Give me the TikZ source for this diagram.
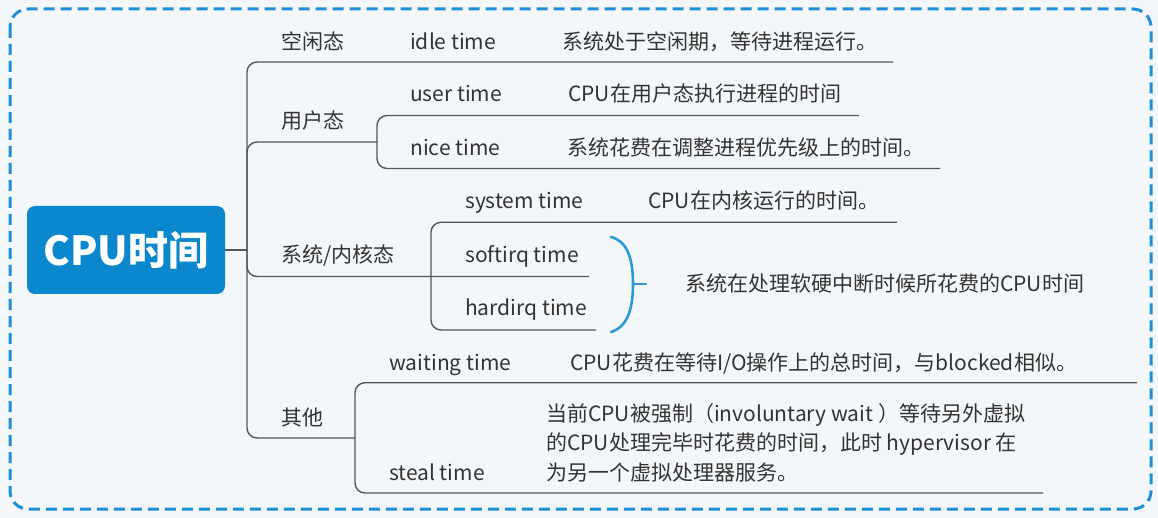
\documentclass[tikz,border=0pt]{standalone}
\usepackage{fontspec}
\setmainfont{Noto Sans CJK SC}
\definecolor{bgc}{HTML}{F4F7FA}
\definecolor{bordc}{HTML}{1E8FD6}
\definecolor{centc}{HTML}{0B87CD}
\definecolor{textc}{HTML}{333333}
\definecolor{linec}{HTML}{555555}
\definecolor{bracec}{HTML}{2A9AD6}
\begin{document}
\begin{tikzpicture}[x=1pt,y=-1pt,
  txt/.style={anchor=base west, inner sep=0pt, font=\fontsize{21}{29.5}\selectfont, text=textc},
  ln/.style={draw=linec, line width=1.4pt, rounded corners=10pt},
  border/.style={draw=bordc, line width=3pt, dash pattern=on 11pt off 6pt, rounded corners=18pt},
  centerbox/.style={fill=centc, rounded corners=8pt, minimum width=198pt, minimum height=88pt, inner sep=0pt, text=white, font=\fontsize{40}{48}\selectfont\bfseries},
  bracestyle/.style={draw=bracec, line width=2.6pt, line cap=round}
]
\useasboundingbox (0,0) rectangle (1158,518);
\fill[bgc] (0,0) rectangle (1158,518);
\draw[border] (10,9) rectangle (1151,509);

% central node
\node[centerbox] (cpu) at (126,250) {CPU时间};

% level-1 labels
\node[txt] (idle) at (281,50) {空闲态};
\node[txt] (user) at (281,129) {用户态};
\node[txt] (kern) at (281,263) {系统/内核态};
\node[txt] (other) at (281,425) {其他};

% level-2 labels
\node[txt] (idlet) at (410,50) {idle time};
\node[txt] (usert) at (410,102) {user time};
\node[txt] (nicet) at (410,156) {nice time};
\node[txt] (syst) at (465,209) {system time};
\node[txt] (softt) at (465,263) {softirq time};
\node[txt] (hardt) at (465,316) {hardirq time};
\node[txt] (waitt) at (389,370) {waiting time};
\node[txt] (stealt) at (389,480) {steal time};

% descriptions
\node[txt] (idled) at (562,50) {系统处于空闲期，等待进程运行。};
\node[txt] (userd) at (568,102) {CPU在用户态执行进程的时间};
\node[txt] (niced) at (567,156) {系统花费在调整进程优先级上的时间。};
\node[txt] (sysd) at (648,209) {CPU在内核运行的时间。};
\node[txt] (irqd) at (685,292) {系统在处理软硬中断时候所花费的CPU时间};
\node[txt] (waitd) at (570,370) {CPU花费在等待I/O操作上的总时间，与blocked相似。};
\node[txt, align=left] (steald) at (546,480) {当前CPU被强制（involuntary wait ）等待另外虚拟\\的CPU处理完毕时花费的时间，此时 hypervisor 在\\为另一个虚拟处理器服务。};

% junctions and line ends
\coordinate (J) at (247,250);
\coordinate (u) at (377,142);
\coordinate (k) at (431,276.5);
\coordinate (o) at (355,438);
\coordinate (eidle) at (893,62);
\coordinate (euser) at (859,115.5);
\coordinate (enice) at (940,168.5);
\coordinate (esys) at (897,222.3);
\coordinate (esoft) at (589,276.5);
\coordinate (ehard) at (596,330);
\coordinate (ewait) at (1137,382.7);
\coordinate (esteal) at (1043,493);

% connectors
\draw[ln] (cpu.east) -- (J);
\draw[ln] (J) |- (eidle);
\draw[ln] (J) |- (u);
\draw[ln] (J) |- (esoft);
\draw[ln] (J) |- (o);
\draw[ln] (u) |- (euser);
\draw[ln] (u) |- (enice);
\draw[ln] (k) |- (esys);
\draw[ln] (k) |- (ehard);
\draw[ln] (o) |- (ewait);
\draw[ln] (o) |- (esteal);

% brace
\coordinate (btop) at (611,237);
\coordinate (bmid) at (633,284);
\coordinate (bbot) at (611,332);
\coordinate (btick) at (646,284);
\draw[bracestyle] (btop) .. controls (627,241) and (633,258) .. (bmid) .. controls (633,310) and (627,327) .. (bbot);
\draw[bracestyle] (bmid) -- (btick);
\end{tikzpicture}
\end{document}
